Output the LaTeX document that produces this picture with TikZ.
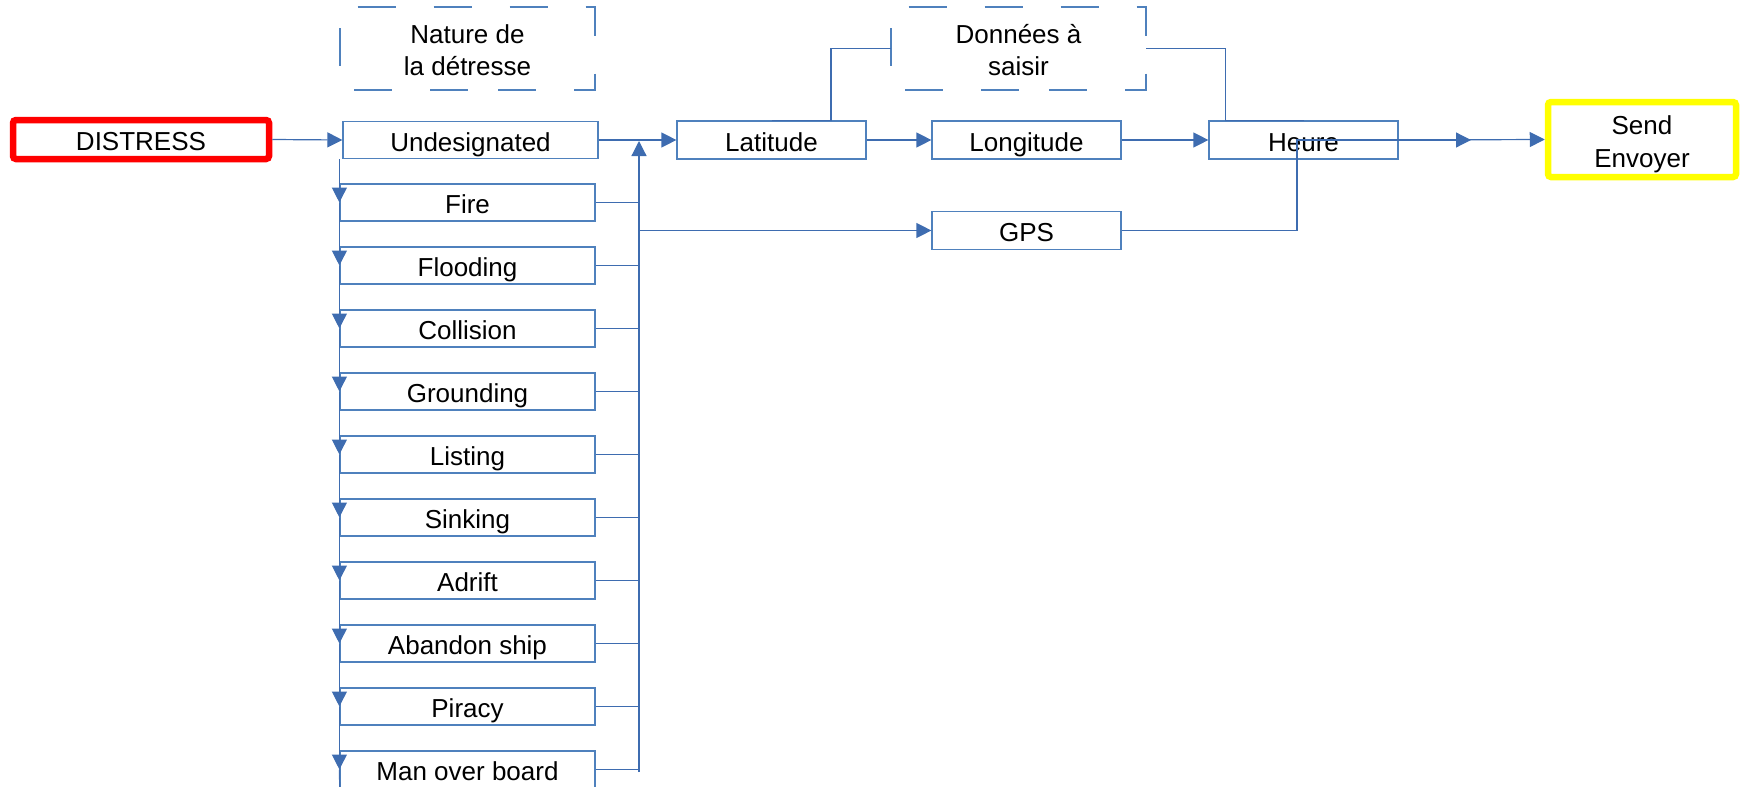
\documentclass[tikz,border=0pt]{standalone}
\usepackage{fontspec}
\setmainfont{Liberation Sans}
\usetikzlibrary{arrows.meta,calc}
\definecolor{boxblue}{RGB}{79,129,189}
\definecolor{lineblue}{RGB}{62,108,176}
\definecolor{distred}{RGB}{255,0,0}
\definecolor{sendyellow}{RGB}{255,255,0}
\tikzset{
  every node/.style={font=\fontsize{13pt}{16pt}\selectfont, text=black,
    text height=11pt, text depth=0pt},
  listbox/.style={draw=boxblue, line width=0.6pt, rectangle, inner sep=0pt,
    minimum width=127.5pt, minimum height=18.5pt},
  databox/.style={draw=boxblue, line width=0.6pt, rectangle, inner sep=0pt,
    minimum width=94.5pt, minimum height=19pt},
  dashbox/.style={rectangle, inner sep=0pt, outer sep=0pt,
    minimum width=127.5pt, minimum height=41.5pt, align=center,
    text height=26.5pt, text depth=0pt},
  dashline/.style={draw=boxblue, line width=0.6pt, dash pattern=on 19pt off 19pt},
  conn/.style={draw=lineblue, line width=0.6pt},
  arr/.style={conn, -{Triangle[length=7.5pt,width=7.5pt]}},
}
\begin{document}
\begin{tikzpicture}[x=0.5pt,y=-0.5pt]
\useasboundingbox (0,0) rectangle (1741,787);

% main nodes
\node[draw=distred, line width=3.25pt, rounded corners=1.5pt, rectangle, inner sep=0pt,
  minimum width=128pt, minimum height=19.5pt] (distress) at (141,139.5) {DISTRESS};
\node[draw=sendyellow, line width=3.25pt, rounded corners=1.5pt, rectangle, inner sep=0pt,
  minimum width=94pt, minimum height=37.5pt, align=center,
  text height=27.5pt, text depth=0pt] (send) at (1642,139.5) {Send\\[0.5pt]Envoyer};

\node[dashbox] (nature) at (467.5,48.5) {Nature de\\la détresse};
\node[dashbox] (donnees) at (1018.5,48.5) {Données à\\saisir};
\draw[dashline] (nature.south) -- (nature.south west) -- (nature.north west)
  -- (nature.north east) -- (nature.south east) -- cycle;
\draw[dashline] (donnees.south) -- (donnees.south west) -- (donnees.north west)
  -- (donnees.north east) -- (donnees.south east) -- cycle;

\node[listbox] (und) at (470.5,140) {Undesignated};
\node[listbox] (l1) at (467.5,202.5) {Fire};
\node[listbox] (l2) at (467.5,265.5) {Flooding};
\node[listbox] (l3) at (467.5,328.5) {Collision};
\node[listbox] (l4) at (467.5,391.5) {Grounding};
\node[listbox] (l5) at (467.5,454.5) {Listing};
\node[listbox] (l6) at (467.5,517.5) {Sinking};
\node[listbox] (l7) at (467.5,580.5) {Adrift};
\node[listbox] (l8) at (467.5,643.5) {Abandon ship};
\node[listbox] (l9) at (467.5,706.5) {Piracy};
\node[listbox] (l10) at (467.5,769.5) {Man over board};

\node[databox] (lat) at (771.5,140) {Latitude};
\node[databox] (lon) at (1026.5,140) {Longitude};
\node[databox] (heure) at (1303.5,140) {Heure};
\node[databox] (gps) at (1026.5,230.5) {GPS};

% coordinates
\coordinate (bustop) at (639,141);
\coordinate (busbot) at (639,772);
\coordinate (leftbot) at (340,800);
\coordinate (gpsend) at (1471,140);

% connectors
\draw[arr] (distress.east) -- (und.west);
\draw[arr] (l1.west |- und.south) -- (l1.west);
\foreach \a/\b in {l1/l2,l2/l3,l3/l4,l4/l5,l5/l6,l6/l7,l7/l8,l8/l9,l9/l10}{
  \draw[arr] (\a.west) -- (\b.west);
}
\draw[conn] (l10.west) -- (leftbot);

\foreach \n in {l1,l2,l3,l4,l5,l6,l7,l8,l9,l10}{
  \draw[conn] (\n.east) -- (\n.east -| bustop);
}
\draw[arr] (busbot) -- (bustop);
\draw[arr] (bustop |- gps.west) -- (gps.west);

\draw[arr] (und.east) -- (lat.west);
\draw[arr] (lat.east) -- (lon.west);
\draw[arr] (lon.east) -- (heure.west);
\draw[arr] (heure.east) -- (send.west);

\draw[conn] (lat.north) -- ([xshift=29.75pt]lat.north) |- (donnees.west);
\draw[conn] (donnees.east) -| ([xshift=-39pt]heure.north) -- (heure.north);
\draw[arr] (gps.east) -| ([xshift=-3.25pt]heure.center) -- (gpsend);
\end{tikzpicture}
\end{document}
